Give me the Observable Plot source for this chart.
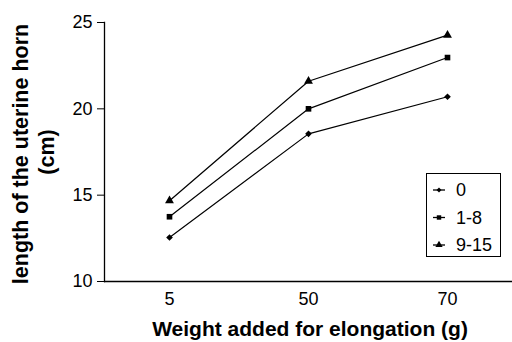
<!DOCTYPE html>
<html><head><meta charset="utf-8">
<script src="https://cdn.jsdelivr.net/npm/d3@7"></script>
<script src="https://cdn.jsdelivr.net/npm/@observablehq/plot@0.6"></script>
<style>
body{margin:0;background:#fff;font-family:"Liberation Sans",Arial,Helvetica,sans-serif;}
#wrap{position:relative;width:512px;height:342px;}
#legend{position:absolute;left:426px;top:173px;width:73px;height:82px;border:1px solid #000;background:#fff;}
.ylab{position:absolute;font-weight:bold;font-size:21.5px;white-space:nowrap;transform:translate(-50%,-50%) rotate(-90deg);}
#xlab{position:absolute;font-weight:bold;font-size:21px;white-space:nowrap;transform:translate(-50%,-50%);}
</style></head>
<body><div id="wrap"></div>
<script>
const weights = ["5", "50", "70"];
const series = ["0", "1-8", "9-15"];
const values0 = [12.55, 18.55, 20.7];
const values18 = [13.75, 20.0, 22.97];
const values915 = [14.68, 21.6, 24.27];
const yTicks = [10, 15, 20, 25];
const symbols = ["diamond2", "square", "triangle"];
const sizes = [2.5, 2.8, 3.0];

const allVals = [values0, values18, values915];
const data = [];
series.forEach((s, i) => weights.forEach((w, j) => data.push({series: s, weight: w, value: allVals[i][j]})));

const chart = Plot.plot({
  width: 512, height: 342,
  marginLeft: 104, marginRight: 0, marginTop: 22, marginBottom: 61,
  style: {fontFamily: '"Liberation Sans", Arial, sans-serif', fontSize: "18px", color: "#000", background: "#fff"},
  x: {type: "point", domain: weights, padding: 0.46, label: null},
  y: {domain: [10, 25], label: null},
  symbol: {domain: series, range: symbols},
  marks: [
    Plot.axisY({ticks: yTicks, tickSize: 7, tickPadding: 5, label: null, fontSize: 18}),
    Plot.axisX({tickSize: 0, tickPadding: 11, label: null, fontSize: 18}),
    Plot.ruleY([10], {stroke: "#000", strokeWidth: 1.3}),
    Plot.frame({anchor: "left", stroke: "#000", strokeWidth: 1.3}),
    Plot.line(data, {x: "weight", y: "value", z: "series", stroke: "#000", strokeWidth: 1.2}),
    Plot.dot(data, {x: "weight", y: "value", symbol: "series", fill: "#000", stroke: "none", r: d => sizes[series.indexOf(d.series)]})
  ]
});
const wrap = document.getElementById("wrap");
wrap.appendChild(chart);

// axis labels
const yl1 = document.createElement("div"); yl1.className = "ylab"; yl1.textContent = "length of the uterine horn";
yl1.style.left = "21px"; yl1.style.top = "154px"; wrap.appendChild(yl1);
const yl2 = document.createElement("div"); yl2.className = "ylab"; yl2.textContent = "(cm)";
yl2.style.left = "47px"; yl2.style.top = "152px"; wrap.appendChild(yl2);
const xl = document.createElement("div"); xl.id = "xlab"; xl.textContent = "Weight added for elongation (g)";
xl.style.left = "310px"; xl.style.top = "329px"; wrap.appendChild(xl);

// legend
const leg = document.createElement("div"); leg.id = "legend"; wrap.appendChild(leg);
const ls = d3.create("svg").attr("width", 73).attr("height", 82);
series.forEach((s, i) => {
  const cy = 16 + i * 27.5;
  ls.append("line").attr("x1", 6).attr("x2", 18).attr("y1", cy).attr("y2", cy).attr("stroke", "#000").attr("stroke-width", 1.3);
  const sym = {diamond2: d3.symbolDiamond2, square: d3.symbolSquare, triangle: d3.symbolTriangle}[symbols[i]];
  ls.append("path").attr("transform", `translate(12,${cy})`).attr("d", d3.symbol(sym, Math.PI * sizes[i] * sizes[i] * 0.8)()).attr("fill", "#000");
  ls.append("text").attr("x", 29).attr("y", cy).attr("dy", "0.35em").attr("font-size", 18).attr("font-family", '"Liberation Sans", Arial, sans-serif').text(s);
});
leg.appendChild(ls.node());
</script>
</body></html>
